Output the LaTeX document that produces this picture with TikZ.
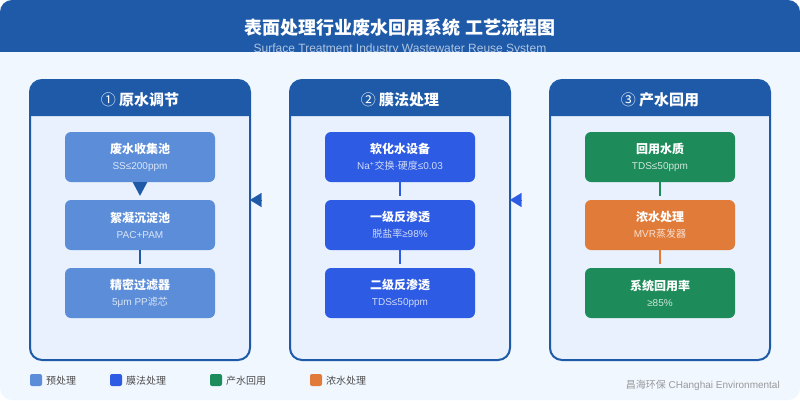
\documentclass[tikz,border=0pt]{standalone}
\usepackage{fontspec}
\setmainfont{Liberation Sans}
\newfontfamily\cjk{Noto Sans CJK SC}
\usetikzlibrary{arrows.meta,positioning}

\definecolor{headblue}{HTML}{1E5AA8}
\definecolor{pagebg}{HTML}{F0F7FF}
\definecolor{panelbg}{HTML}{E8F1FD}
\definecolor{pretreat}{HTML}{5B8DD9}
\definecolor{membrane}{HTML}{2D5BE3}
\definecolor{reuse}{HTML}{1E8C5A}
\definecolor{brine}{HTML}{E07B39}

\tikzset{
	panel/.style={draw=headblue, line width=2pt, fill=panelbg, rounded corners=12pt, minimum width=220pt, minimum height=280pt, inner sep=0pt, outer sep=0pt},
	panelhead/.style={fill=headblue, rounded corners=12pt},
	paneltitle/.style={text=white, font=\cjk\bfseries\fontsize{15}{18}\selectfont, inner sep=0pt},
	stage/.style={rounded corners=6pt, minimum width=150pt, minimum height=50pt, inner sep=0pt, outer sep=0pt, align=center, text=white, font=\fontsize{10}{14}\selectfont},
	link/.style={line width=2.8pt, shorten >=4pt},
	bigtip/.style={-{Triangle[length=11.5pt,width=14pt]}, line width=0.05pt},
	legendbox/.style={rounded corners=2pt, minimum size=12pt, inner sep=0pt, outer sep=0pt},
	legendtext/.style={text=black!70, font=\cjk\fontsize{10}{12}\selectfont, inner sep=0pt, outer sep=0pt, anchor=west},
}
% two-line text of one stage
\newcommand{\stagetext}[2]{{\cjk\bfseries\fontsize{12}{14}\selectfont #1}\\[2pt]\pgfsetfillopacity{0.78}#2}

\begin{document}
\begin{tikzpicture}[x=1pt, y=-1pt, >=Latex, line cap=butt]
	
	\useasboundingbox (0,0) rectangle (800,400);
	
	% page and title band
	\fill[pagebg, rounded corners=12pt] (0,0) rectangle (800,400);
	\path[panelhead] (0,52) -- (0,0) -- (800,0) [sharp corners] -- (800,52) -- cycle;
	\node[text=white, font=\cjk\bfseries\fontsize{18}{22}\selectfont, inner sep=0pt] (title) at (400,28) {表面处理行业废水回用系统 工艺流程图};
	\node[text=white!65!headblue, font=\fontsize{12}{14}\selectfont, inner sep=0pt, anchor=base] (subtitle) at (400,52) {Surface Treatment Industry Wastewater Reuse System};
	\fill[pagebg] (0,52) rectangle (800,60);
	
	% Left: raw water
	\begin{scope}[shift={(0,0)}]
		\node[panel] (pa) at (140,220) {};
		\path[panelhead] (30,116) -- (30,80) -- (250,80) [sharp corners] -- (250,116) -- cycle;
		\node[paneltitle] (ta) at (140,99.5) {{\mdseries ①} 原水调节};
		
		\node[stage, fill=pretreat] (a1) at (140,157) {\stagetext{废水收集池}{SS≤200ppm}};
		\node[stage, fill=pretreat, below=18pt of a1] (a2) {\stagetext{絮凝沉淀池}{PAC+PAM}};
		\node[stage, fill=pretreat, below=18pt of a2] (a3) {\stagetext{精密过滤器}{5μm PP{\cjk 滤芯}}};
		
		\draw[headblue, -{Triangle[length=14pt,width=14pt]}, link] (a1) -- (a2);
		\draw[headblue, link] (a2) -- (a3);
	\end{scope}
	
	% Middle: membranes
	\begin{scope}[shift={(260,0)}]
		\node[panel] (pb) at (140,220) {};
		\path[panelhead] (30,116) -- (30,80) -- (250,80) [sharp corners] -- (250,116) -- cycle;
		\node[paneltitle] (tb) at (140,99.5) {{\mdseries ②} 膜法处理};
		
		\node[stage, fill=membrane] (b1) at (140,157) {\stagetext{软化水设备}{Na\textsuperscript{+}{\cjk 交换}·{\cjk 硬度}≤0.03}};
		\node[stage, fill=membrane, below=18pt of b1] (b2) {\stagetext{一级反渗透}{{\cjk 脱盐率}≥98\%}};
		\node[stage, fill=membrane, below=18pt of b2] (b3) {\stagetext{二级反渗透}{TDS≤50ppm}};
		
		\draw[membrane, link] (b1) -- (b2);
		\draw[membrane, link] (b2) -- (b3);
	\end{scope}
	
	% Right: product water
	\begin{scope}[shift={(520,0)}]
		\node[panel] (pc) at (140,220) {};
		\path[panelhead] (30,116) -- (30,80) -- (250,80) [sharp corners] -- (250,116) -- cycle;
		\node[paneltitle] (tc) at (140,99.5) {{\mdseries ③} 产水回用};
		
		\node[stage, fill=reuse] (c1) at (140,157) {\stagetext{回用水质}{TDS≤50ppm}};
		\node[stage, fill=brine, below=18pt of c1] (c2) {\stagetext{浓水处理}{MVR{\cjk 蒸发器}}};
		\node[stage, fill=reuse, below=18pt of c2] (c3) {\stagetext{系统回用率}{≥85\%}};
		
		\draw[reuse, link] (c1) -- (c2);
		\draw[brine, link] (c2) -- (c3);
	\end{scope}
	
	% arrows between the panels
	\coordinate (ba) at (262,200);
	\coordinate (cb) at (522,200);
	\draw[headblue, bigtip] (ba) -- (ba -| pa.east);
	\draw[membrane, bigtip] (cb) -- (cb -| pb.east);
	
	% legend
	\foreach \lx/\lc/\lt/\ln in {36/pretreat/预处理/la, 116/membrane/膜法处理/lb, 216/reuse/产水回用/lc, 316/brine/浓水处理/ld}{
		\node[legendbox, fill=\lc] (\ln) at (\lx,380) {};
		\node[legendtext, right=4pt of \ln, yshift=-1pt] (\ln t) {\lt};
	}
	
	\node[text=black!40, font=\fontsize{10}{12}\selectfont, inner sep=0pt, anchor=east] (brand) at (780,385) {{\cjk 昌海环保} CHanghai Environmental};
	
\end{tikzpicture}
\end{document}
